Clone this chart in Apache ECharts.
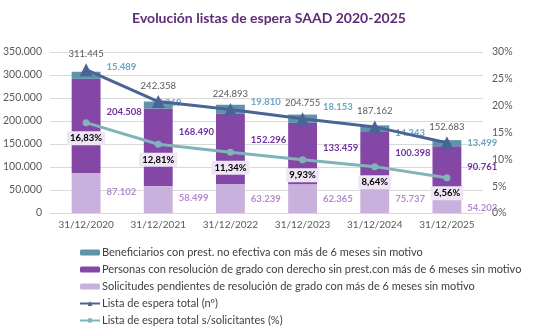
<!DOCTYPE html>
<html>
<head>
<meta charset="utf-8">
<script src="https://cdn.jsdelivr.net/npm/echarts@6/dist/echarts.min.js"></script>
<style>html,body{margin:0;padding:0;background:#fff}#c{width:538px;height:336px}</style>
</head>
<body>
<div id="c"></div>
<script>
const categories = ['31/12/2020','31/12/2021','31/12/2022','31/12/2023','31/12/2024','31/12/2025'];
const beneficiarios = [15489, 15369, 19810, 18153, 14343, 13499];
const personas = [204508, 168490, 152296, 133459, 100398, 90761];
const solicitudes = [87102, 58499, 63239, 62365, 75737, 54203];
const listaTotal = [311445, 242358, 224893, 204755, 187162, 152683];
const listaPct = [16.83, 12.81, 11.34, 9.93, 8.64, 6.56];
const leftTicks = [0, 50000, 100000, 150000, 200000, 250000, 300000, 350000];
const rightTicks = [0, 5, 10, 15, 20, 25, 30];

const names = [
  'Beneficiarios con prest. no efectiva con más de 6 meses sin motivo',
  'Personas con resolución de grado con derecho sin prest.con más de 6 meses sin motivo',
  'Solicitudes pendientes de resolución de grado con más de 6 meses sin motivo',
  'Lista de espera total (nº)',
  'Lista de espera total s/solicitantes (%)'
];

// label nudges in px (style only)
const benefOffsets = [[0,-8],[-27,-2],[0,-7],[0,-12],[0,4],[0,0]];
const persOffsets = [[0,-14],[0,-15],[0,-9],[0,-6],[0,-2],[0,0]];
const solOffsets = [[0,-1],[0,-2],[0,0],[0,0],[0,3],[0,7]];

const fmt = v => String(Math.round(v)).replace(/\B(?=(\d{3})+(?!\d))/g, '.');
const FONT = 'Lato';

function withOffsets(arr, offs) {
  return arr.map((v, i) => ({
    value: v,
    label: { position: ['100%', '50%'], offset: [6 + offs[i][0], offs[i][1]], align: 'left', verticalAlign: 'middle' }
  }));
}

const chart = echarts.init(document.getElementById('c'), null, { renderer: 'canvas' });
chart.setOption({
  animation: false,
  textStyle: { fontFamily: FONT },
  title: {
    text: 'Evolución listas de espera SAAD 2020-2025',
    left: 'center', top: 6,
    textStyle: { fontSize: 14, fontWeight: 'bold', color: '#5e2b78', fontFamily: FONT }
  },
  grid: { left: 45, right: 55, top: 52, bottom: 123, containLabel: false },
  legend: {
    orient: 'vertical', left: 74, top: 242,
    itemWidth: 20, itemHeight: 6, itemGap: 6,
    textStyle: { fontSize: 11, color: '#404040', fontFamily: FONT, padding: [0, 0, 0, -3] },
    data: names
  },
  xAxis: {
    type: 'category', data: categories,
    axisLine: { lineStyle: { color: '#d9d9d9' } },
    axisTick: { show: false },
    axisLabel: { color: '#595959', fontSize: 10, margin: 7, interval: 0, fontFamily: FONT }
  },
  yAxis: [
    {
      type: 'value', min: leftTicks[0], max: leftTicks[leftTicks.length-1], interval: 50000,
      axisLabel: { color: '#595959', fontSize: 10.5, margin: 8, formatter: v => fmt(v) },
      splitLine: { lineStyle: { color: '#d9d9d9' } },
      axisLine: { show: false }, axisTick: { show: false }
    },
    {
      type: 'value', min: rightTicks[0], max: rightTicks[rightTicks.length-1], interval: 5,
      axisLabel: { color: '#595959', fontSize: 10.5, margin: 9, formatter: v => v + '%' },
      splitLine: { show: false },
      axisLine: { show: false }, axisTick: { show: false }
    }
  ],
  series: [
    {
      name: names[2], type: 'bar', stack: 's', barWidth: '40%',
      itemStyle: { color: '#c9b1dd' },
      label: { show: true, color: '#b48ad0', fontSize: 9.5, fontWeight: 'bold', formatter: p => fmt(p.value) },
      data: withOffsets(solicitudes, solOffsets)
    },
    {
      name: names[1], type: 'bar', stack: 's', barWidth: '40%',
      itemStyle: { color: '#8447a6' },
      label: { show: true, color: '#7030a0', fontSize: 9.5, fontWeight: 'bold', formatter: p => fmt(p.value) },
      data: withOffsets(personas, persOffsets)
    },
    {
      name: names[0], type: 'bar', stack: 's', barWidth: '40%',
      itemStyle: { color: '#5e93aa' },
      label: { show: true, color: '#6aa5c2', fontSize: 9.5, fontWeight: 'bold', formatter: p => fmt(p.value) },
      data: withOffsets(beneficiarios, benefOffsets)
    },
    {
      name: names[3], type: 'line', z: 5,
      symbol: 'triangle', symbolSize: 13,
      lineStyle: { color: '#4a6595', width: 3 },
      itemStyle: { color: '#4a6595' },
      label: { show: true, position: 'top', distance: 4, color: '#595959', fontSize: 9.5, formatter: p => fmt(p.value) },
      data: listaTotal
    },
    {
      name: names[4], type: 'line', yAxisIndex: 1, z: 5,
      symbol: 'circle', symbolSize: 7,
      lineStyle: { color: '#80b4ba', width: 3 },
      itemStyle: { color: '#80b4ba' },
      label: {
        show: true, position: 'bottom', distance: 5, color: '#000', fontSize: 9.5, fontWeight: 'bold',
        backgroundColor: '#efe6f5', padding: [2, 3],
        formatter: p => p.value.toFixed(2).replace('.', ',') + '%'
      },
      data: listaPct
    }
  ]
});
</script>
</body>
</html>
